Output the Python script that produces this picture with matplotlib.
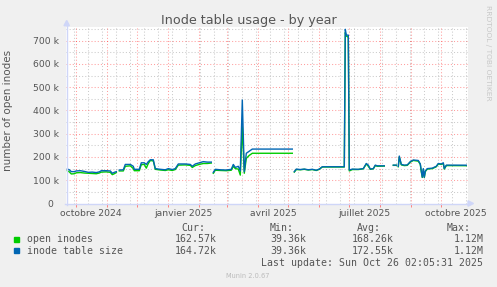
import matplotlib
matplotlib.use('Agg')
import matplotlib.pyplot as plt
import matplotlib.dates as mdates
import matplotlib.transforms as mtransforms
import numpy as np
import pandas as pd
from matplotlib.patches import Polygon, Rectangle
from matplotlib.lines import Line2D

# ---------------- data (values in thousands of inodes) ----------------
nan = np.nan
dates = [
    # segment 1
    '2024-09-22', '2024-09-24', '2024-09-26', '2024-09-29', '2024-10-01', '2024-10-05',
    '2024-10-09', '2024-10-13', '2024-10-17', '2024-10-21', '2024-10-24', '2024-10-26',
    '2024-10-31', '2024-11-04', '2024-11-06', '2024-11-08', '2024-11-10', '2024-11-11',
    # segment 2
    '2024-11-13', '2024-11-17', '2024-11-19', '2024-11-24', '2024-11-27', '2024-11-28',
    '2024-12-03', '2024-12-05', '2024-12-08', '2024-12-10', '2024-12-12', '2024-12-14',
    '2024-12-17', '2024-12-19', '2024-12-24', '2024-12-29', '2025-01-01', '2025-01-05',
    '2025-01-08', '2025-01-11', '2025-01-18', '2025-01-23', '2025-01-25', '2025-01-28',
    '2025-02-01', '2025-02-05', '2025-02-09', '2025-02-13', '2025-02-14',
    # segment 3
    '2025-02-15', '2025-02-17', '2025-02-22', '2025-02-28', '2025-03-05', '2025-03-07',
    '2025-03-09', '2025-03-12', '2025-03-14', '2025-03-16', '2025-03-18', '2025-03-20',
    '2025-03-23', '2025-03-26', '2025-05-05', '2025-05-06',
    # segment 4
    '2025-05-07', '2025-05-09', '2025-05-13', '2025-05-17', '2025-05-21', '2025-05-25',
    '2025-05-29', '2025-06-01', '2025-06-04', '2025-06-26', '2025-06-27', '2025-06-28',
    '2025-06-30', '2025-07-01', '2025-07-04', '2025-07-10', '2025-07-15', '2025-07-18',
    '2025-07-20', '2025-07-22', '2025-07-25', '2025-07-27', '2025-07-29', '2025-08-05',
    '2025-08-06',
    # segment 5a
    '2025-08-14', '2025-08-17', '2025-08-18',
    # segment 5b
    '2025-08-19', '2025-08-20', '2025-08-22', '2025-08-25', '2025-08-28', '2025-08-31',
    '2025-09-03', '2025-09-08', '2025-09-10', '2025-09-11', '2025-09-12', '2025-09-13',
    '2025-09-14', '2025-09-15', '2025-09-17', '2025-09-22', '2025-09-26', '2025-09-28',
    '2025-10-01', '2025-10-03', '2025-10-04', '2025-10-06', '2025-10-26',
]
inode_table_size = [
    148, 145, 137, 137, 140, 141, 138, 134, 135, 133, 136, 141, 141, 140, 130, 134, 137, nan,
    144, 145, 168, 168, 160, 147, 147, 175, 175, 168, 180, 188, 188, 150, 147, 145, 150, 146,
    150, 170, 170, 168, 160, 170, 175, 180, 178, 178, nan,
    134, 147, 145, 144, 147, 168, 155, 160, 140, 445, 137, 216, 225, 234, 234, nan,
    137, 148, 146, 148, 145, 147, 143, 148, 158, 158, 749, 724, 724, 144, 148, 147, 150, 172,
    165, 148, 150, 165, 162, 162, nan,
    165, 165, nan,
    160, 204, 168, 165, 166, 180, 187, 185, 170, 140, 113, 150, 113, 140, 150, 152, 160, 172,
    170, 175, 150, 165, 164.72,
]
open_inodes = [
    141, 136, 127, 128, 132, 133, 131, 130, 129, 128, 131, 135, 136, 134, 124, 128, 133, nan,
    140, 140, 160, 162, 150, 141, 141, 167, 168, 152, 172, 185, 183, 147, 144, 142, 145, 142,
    146, 165, 166, 164, 155, 163, 168, 172, 172, 174, nan,
    130, 143, 142, 141, 143, 160, 150, 148, 122, 330, 130, 194, 207, 216, 216, nan,
    135, 146, 145, 147, 144, 146, 142, 147, 157, 157, 735, 720, 715, 140, 146, 146, 149, 170,
    160, 147, 149, 163, 160, 161, nan,
    164, 164, nan,
    158, 200, 166, 163, 164, 178, 185, 182, 168, 136, 112, 146, 112, 137, 148, 150, 158, 170,
    168, 172, 148, 163, 162.57,
]
series_labels = ['open inodes', 'inode table size']
series_colors = ['#00CC00', '#0066B3']
stats_cur = ['162.57k', '164.72k']
stats_min = ['39.36k', '39.36k']
stats_avg = ['168.26k', '172.55k']
stats_max = ['1.12M', '1.12M']
ytick_values = [0, 100, 200, 300, 400, 500, 600, 700]
ytick_labels = ['0', '100 k', '200 k', '300 k', '400 k', '500 k', '600 k', '700 k']
xlabel_dates = ['2024-10-16', '2025-01-16', '2025-04-16', '2025-07-16', '2025-10-16']
xlabel_texts = ['octobre 2024', 'janvier 2025', 'avril 2025', 'juillet 2025', 'octobre 2025']
title = 'Inode table usage - by year'
ylabel = 'number of open inodes'
last_update = 'Last update: Sun Oct 26 02:05:31 2025'

# ---------------- layout ----------------
W, H = 497, 287
fig = plt.figure(figsize=(W / 100, H / 100), dpi=100, facecolor='#F0F0F0')
L, R, T, B = 66.3, 467.7, 27.0, 203.5
ax = fig.add_axes([L / W, 1 - B / H, (R - L) / W, (B - T) / H])
ax.set_facecolor('white')
for s in ax.spines.values():
    s.set_visible(False)

def fx(x):
    return x / W

def fy(y):
    return 1 - y / H

x0 = pd.Timestamp('2024-09-21')
x1 = x0 + pd.Timedelta(days=401.4)
ax.set_xlim(x0, x1)
ax.set_ylim(0, 758.9)

# grid
GRID_MIN = (0.55, 0.55, 0.55, 0.45)
GRID_MAJ = (1.0, 0.0, 0.0, 0.38)
dot = (0, (1, 2))
for v in np.arange(50, 760, 100):
    ax.axhline(v, color=GRID_MIN, lw=0.75, ls=dot, zorder=1)
minor_start = x0 + pd.Timedelta(days=7.7)
for k in range(0, 30):
    d = minor_start + pd.Timedelta(days=14 * k)
    if d < x1:
        ax.axvline(d, color=GRID_MIN, lw=0.75, ls=dot, zorder=1)
for v in range(100, 760, 100):
    ax.axhline(v, color=GRID_MAJ, lw=0.75, ls=dot, zorder=2)
month_starts = pd.date_range('2024-10-01', '2025-10-01', freq='MS')
for d in month_starts:
    ax.axvline(d, color=GRID_MAJ, lw=0.75, ls=dot, zorder=2)

# data
xd = pd.to_datetime(dates)
ax.plot(xd, open_inodes, color=series_colors[0], lw=1.0, zorder=3)
ax.plot(xd, inode_table_size, color=series_colors[1], lw=1.0, zorder=4)

# ticks
ax.set_yticks([])
ax.set_xticks(pd.to_datetime(xlabel_dates))
ax.set_xticklabels(xlabel_texts, fontsize=6.7, color='#555555')
ax.tick_params(axis='x', length=0, pad=3.6)
ax.set_xticks(month_starts, minor=True)
ax.tick_params(axis='x', which='minor', length=2.0, width=0.7, color=(1, 0.5, 0.5), direction='out')

tr = mtransforms.blended_transform_factory(fig.transFigure, ax.transData)
for v, lab in zip(ytick_values, ytick_labels):
    xr = 59.3 if lab != '0' else 53.5
    ax.text(fx(xr), v, lab, transform=tr, ha='right', va='center_baseline',
            fontsize=6.7, color='#555555')

# axis lines & arrows
AX = '#CFD6F8'
fig.add_artist(Line2D([fx(66.5), fx(66.5)], [fy(B + 1), fy(24)], color=AX, lw=1.0,
                      transform=fig.transFigure))
fig.add_artist(Line2D([fx(64.5), fx(469)], [fy(B), fy(B)], color=AX, lw=1.0,
                      transform=fig.transFigure))
fig.add_artist(Polygon([(fx(64.0), fy(25.7)), (fx(69.4), fy(25.7)), (fx(66.7), fy(20.5))],
                       closed=True, color=AX, transform=fig.transFigure))
fig.add_artist(Polygon([(fx(468.0), fy(200.8)), (fx(468.0), fy(206.2)), (fx(473.5), fy(203.5))],
                       closed=True, color=AX, transform=fig.transFigure))

# texts
fig.text(fx(249), fy(24), title, ha='center', va='baseline', fontsize=9.2, color='#555555')
fig.text(fx(8.5), fy(110.5), ylabel, rotation=90, ha='center', va='center',
         fontsize=7.5, color='#555555')
fig.text(fx(487.7), fy(53), 'RRDTOOL / TOBI OETIKER', rotation=270, ha='center', va='center',
         fontsize=5.4, color='#C8C8C8')

mono = 'DejaVu Sans Mono'
fs = 7.1
tc = '#555555'
for xl, h in zip([181.7, 269.3, 357.3, 446.7], ['Cur:', 'Min:', 'Avg:', 'Max:']):
    fig.text(fx(xl), fy(231), h, ha='left', va='baseline', family=mono, fontsize=fs, color=tc)
rows_y = [242, 253.5]
sq_y = [236.7, 248.3]
for i in range(2):
    fig.add_artist(Rectangle((fx(14), fy(sq_y[i] + 5)), 5 / W, 5 / H, color=series_colors[i],
                             transform=fig.transFigure))
    fig.text(fx(26.7), fy(rows_y[i]), series_labels[i], ha='left', va='baseline',
             family=mono, fontsize=fs, color=tc)
    for xr, val in zip([217, 306, 394, 483.3],
                       [stats_cur[i], stats_min[i], stats_avg[i], stats_max[i]]):
        fig.text(fx(xr), fy(rows_y[i]), val, ha='right', va='baseline',
                 family=mono, fontsize=fs, color=tc)
fig.text(fx(482.7), fy(266.5), last_update, ha='right', va='baseline', family=mono,
         fontsize=fs, color=tc)
fig.text(fx(247.7), fy(278), 'Munin 2.0.67', ha='center', va='baseline', fontsize=4.8,
         color='#BBBBBB')

fig.savefig('out.png', dpi=100, facecolor=fig.get_facecolor())
